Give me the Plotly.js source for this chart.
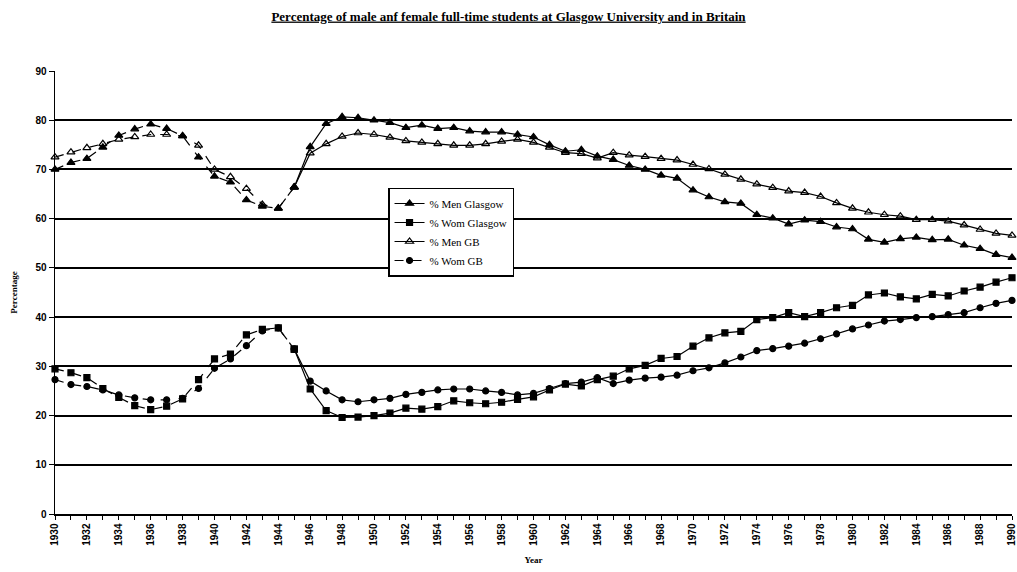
<!DOCTYPE html>
<html>
<head>
<meta charset="utf-8">
<script src="https://cdn.plot.ly/plotly-3.0.1.min.js"></script>
<style>
  html, body { margin: 0; padding: 0; background: #fff; }
  #chart { width: 1017px; height: 572px; }
</style>
</head>
<body>
<div id="chart"></div>
<script>
// ----- 1. Data -----
const years = [
  1930, 1931, 1932, 1933, 1934, 1935, 1936, 1937, 1938, 1939,
  1940, 1941, 1942, 1943, 1944, 1945, 1946, 1947, 1948, 1949,
  1950, 1951, 1952, 1953, 1954, 1955, 1956, 1957, 1958, 1959,
  1960, 1961, 1962, 1963, 1964, 1965, 1966, 1967, 1968, 1969,
  1970, 1971, 1972, 1973, 1974, 1975, 1976, 1977, 1978, 1979,
  1980, 1981, 1982, 1983, 1984, 1985, 1986, 1987, 1988, 1989,
  1990
];

const menGlasgow = [
  70.0, 71.4, 72.2, 74.5, 76.9, 78.2, 79.2, 78.3, 76.8, 72.5,
  68.6, 67.4, 63.8, 62.5, 62.1, 66.4, 74.6, 79.3, 80.7, 80.5,
  80.0, 79.5, 78.5, 79.0, 78.3, 78.5, 77.8, 77.6, 77.6, 77.1,
  76.6, 75.0, 73.7, 74.0, 72.7, 72.0, 70.8, 70.0, 68.8, 68.2,
  65.8, 64.4, 63.4, 63.1, 60.8, 60.1, 58.9, 59.7, 59.4, 58.3,
  57.9, 55.8, 55.2, 55.9, 56.2, 55.7, 55.8, 54.6, 53.9, 52.7,
  52.1
];

const womGlasgow = [
  29.5, 28.7, 27.7, 25.5, 23.7, 22.0, 21.2, 21.9, 23.4, 27.3,
  31.5, 32.5, 36.4, 37.5, 37.8, 33.5, 25.4, 21.0, 19.6, 19.7,
  20.0, 20.5, 21.5, 21.3, 21.8, 23.0, 22.6, 22.4, 22.7, 23.3,
  23.8, 25.2, 26.4, 26.0, 27.3, 28.0, 29.5, 30.2, 31.6, 32.0,
  34.1, 35.8, 36.8, 37.1, 39.5, 39.9, 40.9, 40.1, 40.9, 41.9,
  42.4, 44.5, 44.9, 44.1, 43.7, 44.6, 44.3, 45.3, 46.1, 47.1,
  48.0
];

const menGB = [
  72.5, 73.5, 74.4, 75.2, 76.1, 76.6, 77.1, 77.1, 76.8, 74.9,
  70.0, 68.5, 66.1, 62.9, 62.1, 66.4, 73.3, 75.2, 76.7, 77.4,
  77.1, 76.5, 75.8, 75.5, 75.2, 74.9, 74.9, 75.2, 75.7, 76.1,
  75.5, 74.5, 73.4, 73.2, 72.3, 73.4, 72.9, 72.6, 72.2, 71.9,
  71.0, 70.1, 69.0, 68.0, 67.0, 66.3, 65.6, 65.3, 64.5, 63.2,
  62.1, 61.3, 60.8, 60.5, 59.8, 59.8, 59.5, 58.7, 57.8, 57.0,
  56.6
];

const womGB = [
  27.3, 26.3, 25.9, 25.2, 24.2, 23.6, 23.2, 23.2, 23.5, 25.5,
  29.6, 31.5, 34.2, 37.2, 37.8, 33.5, 27.0, 25.0, 23.2, 22.8,
  23.2, 23.5, 24.3, 24.7, 25.2, 25.4, 25.4, 25.0, 24.7, 24.2,
  24.5, 25.5, 26.5, 26.8, 27.7, 26.5, 27.2, 27.6, 27.8, 28.2,
  29.1, 29.7, 30.7, 31.9, 33.2, 33.6, 34.1, 34.7, 35.6, 36.6,
  37.6, 38.4, 39.2, 39.5, 39.9, 40.1, 40.5, 40.9, 41.9, 42.8,
  43.4
];

const seriesNames = ["% Men Glasgow", "% Wom Glasgow", "% Men GB", "% Wom GB"];
const xTickYears = [
  1930, 1932, 1934, 1936, 1938, 1940, 1942, 1944, 1946, 1948,
  1950, 1952, 1954, 1956, 1958, 1960, 1962, 1964, 1966, 1968,
  1970, 1972, 1974, 1976, 1978, 1980, 1982, 1984, 1986, 1988, 1990
];

// ----- 2. Traces -----
// the pre-1945 stretch is drawn dashed in the original, solid afterwards
const SPLIT = years.indexOf(1945);

const styles = [
  { symbol: "triangle-up", size: 7 },
  { symbol: "square", size: 6 },
  { symbol: "triangle-up-open", size: 7 },
  { symbol: "circle", size: 6 }
];
const values = [menGlasgow, womGlasgow, menGB, womGB];

function makeTrace(i, from, to, dash, showlegend) {
  return {
    x: years.slice(from, to),
    y: values[i].slice(from, to),
    type: "scatter",
    mode: "lines+markers",
    name: seriesNames[i],
    showlegend: showlegend,
    cliponaxis: false,
    line: { color: "#000", width: 1.2, dash: dash },
    marker: {
      symbol: styles[i].symbol,
      size: styles[i].size,
      color: "#000",
      line: { color: "#000", width: 1.2 }
    }
  };
}

// legend shows the solid look for the first three, dashed for Wom GB
const traces = [
  makeTrace(0, SPLIT, years.length, "solid", true),
  makeTrace(1, SPLIT, years.length, "solid", true),
  makeTrace(2, SPLIT, years.length, "solid", true),
  makeTrace(3, 0, SPLIT + 1, "dash", true),
  makeTrace(0, 0, SPLIT + 1, "dash", false),
  makeTrace(1, 0, SPLIT + 1, "dash", false),
  makeTrace(2, 0, SPLIT + 1, "dash", false),
  makeTrace(3, SPLIT, years.length, "solid", false)
];

// ----- 3. Layout -----
const tickFont = {
  family: "Liberation Sans Narrow, Liberation Sans, Arial",
  size: 10,
  color: "#000",
  weight: "bold"
};
const serif = "Liberation Serif, Times New Roman";

const layout = {
  width: 1017,
  height: 572,
  paper_bgcolor: "#fff",
  plot_bgcolor: "#fff",
  margin: { l: 55, r: 5, t: 71, b: 58 },
  title: {
    text: "<b><u>Percentage of male anf female full-time students at Glasgow University and in Britain</u></b>",
    font: { family: serif, size: 13, color: "#000" },
    x: 0.5,
    xanchor: "center",
    y: 0.972,
    yanchor: "middle"
  },
  xaxis: {
    range: [1930, 1990],
    tickvals: xTickYears,
    ticktext: xTickYears.map(String),
    tickangle: -90,
    tickfont: tickFont,
    ticklabeloverflow: "allow",
    ticks: "outside",
    ticklen: 4,
    tickcolor: "#000",
    minor: { dtick: 1, tick0: 1930, ticks: "outside", ticklen: 4, tickcolor: "#000", showgrid: false },
    showline: true,
    linecolor: "#000",
    linewidth: 1.5,
    showgrid: false,
    zeroline: false,
    title: {
      text: "<b>Year</b>",
      font: { family: serif, size: 9, color: "#000" },
      standoff: 12
    }
  },
  yaxis: {
    range: [0, 90],
    dtick: 10,
    tick0: 0,
    tickfont: tickFont,
    ticks: "outside",
    ticklen: 5,
    tickcolor: "#000",
    showline: true,
    linecolor: "#000",
    linewidth: 1.5,
    showgrid: true,
    gridcolor: "#000",
    gridwidth: 2,
    zeroline: false,
    title: {
      text: "<b>Percentage</b>",
      font: { family: serif, size: 9, color: "#000" },
      standoff: 16
    }
  },
  legend: {
    x: 0.348,
    y: 0.737,
    xanchor: "left",
    yanchor: "top",
    bgcolor: "#fff",
    bordercolor: "#000",
    borderwidth: 1.5,
    font: { family: serif, size: 11, color: "#000" },
    itemwidth: 30,
    tracegroupgap: 0
  },
  showlegend: true
};

Plotly.newPlot("chart", traces, layout, { staticPlot: true });
</script>
</body>
</html>
